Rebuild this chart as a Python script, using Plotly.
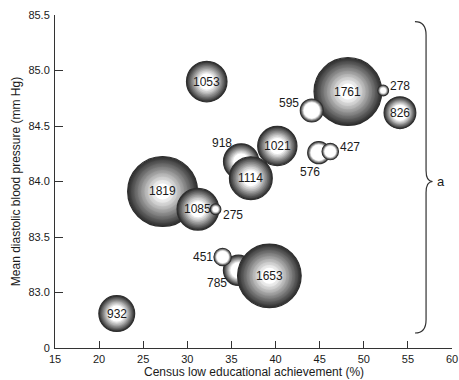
import plotly.graph_objects as go

# Sample size per area; bubbles are listed in the order they are stacked.
sample_n = [1819, 1761, 918, 1114, 785, 1653, 1053, 1085, 1021, 932, 826, 595, 576, 427, 451, 278, 275]
# Census low educational achievement (%)
low_edu_pct = [27.2, 48.2, 36.1, 37.2, 35.8, 39.3, 32.2, 31.2, 40.2, 22.0, 54.1, 44.1, 44.9, 46.2, 34.0, 52.2, 33.2]
# Mean diastolic blood pressure (mm Hg)
mean_dbp = [83.91, 84.81, 84.18, 84.03, 83.20, 83.15, 84.90, 83.75, 84.32, 82.81, 84.62, 84.64, 84.26, 84.27, 83.32, 84.82, 83.75]

x_ticks = [15, 20, 25, 30, 35, 40, 45, 50, 55, 60]
y_ticks = [82.5, 83.0, 83.5, 84.0, 84.5, 85.0, 85.5]
y_tick_labels = ["0", "83.0", "83.5", "84.0", "84.5", "85.0", "85.5"]

# Pixel offsets for labels placed beside a bubble (others sit in the centre).
label_offsets = {
    918: (-19, 19),
    785: (-22, -13),
    451: (-20, 0),
    275: (17, -6),
    278: (17, 4),
    595: (-23, 7),
    576: (-9, -19),
    427: (20, 5),
}

FONT = "Liberation Sans, Arial, sans-serif"
PX_PER_N = 1 / 26.0   # bubble diameter in pixels per unit of sample size
RIM_GREY = 46         # grey level at the rim of each sphere
CORE_MAX_PX = 8       # largest radius of the white core
MIN_RIM_PX = 2.6      # thinnest shaded rim
SHADE_STEPS = 8


def grey(level):
    v = int(round(max(0, min(255, level))))
    return f"rgb({v},{v},{v})"


def sphere_trace(n, x, y):
    """One shaded sphere built from concentric radial-gradient discs."""
    R = n * PX_PER_N / 2
    rc = min(R - MIN_RIM_PX, CORE_MAX_PX)
    radii = [R - (R - rc) * k / SHADE_STEPS for k in range(SHADE_STEPS)] + [rc]

    def shade(r):
        return 255 - (255 - RIM_GREY) * (r - rc) / (R - rc)

    outer = [grey(shade(r)) for r in radii]
    outer[-1] = "white"
    line_w = [1.2] + [0] * (len(radii) - 1)
    return go.Scatter(
        x=[x] * len(radii), y=[y] * len(radii), mode="markers",
        hoverinfo="skip", showlegend=False,
        marker=dict(
            size=[2 * r for r in radii], sizemode="diameter", sizeref=1,
            color=outer,
            gradient=dict(type="radial", color="white"),
            line=dict(color=grey(RIM_GREY), width=line_w),
            opacity=1,
        ),
    )


fig = go.Figure()
for n, x, y in zip(sample_n, low_edu_pct, mean_dbp):
    fig.add_trace(sphere_trace(n, x, y))

annotations = []
for n, x, y in zip(sample_n, low_edu_pct, mean_dbp):
    dx, dy = label_offsets.get(n, (0, 0))
    annotations.append(dict(
        x=x, y=y, xref="x", yref="y", text=str(n), showarrow=False,
        xshift=dx, yshift=dy, font=dict(family=FONT, size=12, color="#1a1a1a"),
    ))

# x-axis title, set below the tick labels
annotations.append(dict(
    x=0.5, y=0, xref="paper", yref="paper", yanchor="top", yshift=-15,
    text="Census low educational achievement (%)", showarrow=False,
    font=dict(family=FONT, size=12, color="#1a1a1a"),
))

# Curly brace along the right side, labelled "a"
BRACE_X0, BRACE_X1, BRACE_TIP = 55.8, 57.06, 57.8
BRACE_TOP, BRACE_MID, BRACE_BOTTOM = 85.44, 84.0, 82.635
brace_path = (
    f"M {BRACE_X0},{BRACE_TOP} "
    f"Q {BRACE_X1},{BRACE_TOP} {BRACE_X1},{BRACE_TOP - 0.12} "
    f"L {BRACE_X1},{BRACE_MID + 0.10} "
    f"Q {BRACE_X1},{BRACE_MID} {BRACE_TIP},{BRACE_MID} "
    f"Q {BRACE_X1},{BRACE_MID} {BRACE_X1},{BRACE_MID - 0.10} "
    f"L {BRACE_X1},{BRACE_BOTTOM + 0.12} "
    f"Q {BRACE_X1},{BRACE_BOTTOM} {BRACE_X0},{BRACE_BOTTOM}"
)
shapes = [dict(type="path", path=brace_path, xref="x", yref="y",
               line=dict(color="#333", width=1.2))]
annotations.append(dict(x=58.1, y=BRACE_MID, xref="x", yref="y", text="a",
                        showarrow=False, xanchor="left",
                        font=dict(family=FONT, size=13, color="#1a1a1a")))

fig.update_layout(
    width=459, height=380,
    margin=dict(l=55, r=7, t=15, b=32),
    paper_bgcolor="white", plot_bgcolor="white",
    font=dict(family=FONT, size=11, color="#1a1a1a"),
    shapes=shapes, annotations=annotations,
    xaxis=dict(
        range=[15, 60], tickvals=x_ticks, ticks="inside", ticklen=7,
        tickcolor="#333", showline=True, linecolor="#333", linewidth=1,
        showgrid=False, zeroline=False, tickfont=dict(size=11),
        ticklabelstandoff=1, automargin=False,
    ),
    yaxis=dict(
        range=[82.5, 85.5], tickvals=y_ticks, ticktext=y_tick_labels,
        ticks="inside", ticklen=8, tickcolor="#333", showline=True,
        linecolor="#333", linewidth=1, showgrid=False, zeroline=False,
        tickfont=dict(size=11), ticklabelstandoff=2, automargin=False,
        title=dict(text="Mean diastolic blood pressure (mm Hg)",
                   font=dict(size=12), standoff=5),
    ),
)

fig.write_html("out.html")
